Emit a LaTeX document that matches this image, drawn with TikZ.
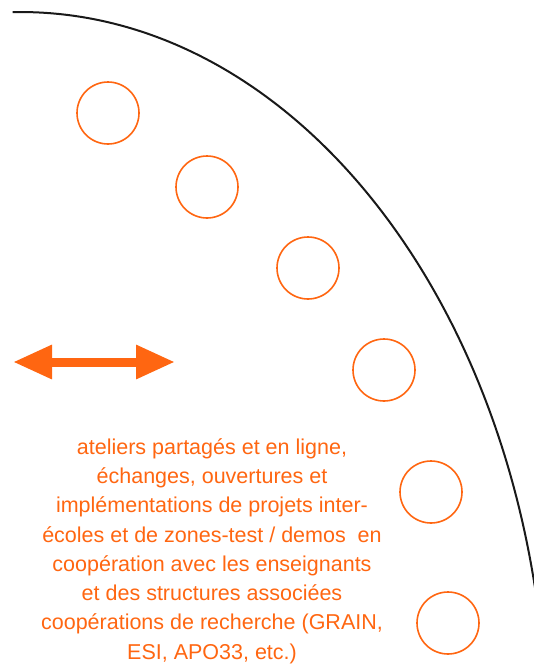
\documentclass[tikz,border=0pt]{standalone}
\usepackage{fontspec}
\setmainfont{Liberation Sans}
\usepackage{xcolor}
\usepackage{tikz}
\usetikzlibrary{arrows.meta,positioning}
\definecolor{ringOrange}{RGB}{255,102,17}
\colorlet{arcBlack}{black!90}
\tikzset{
  % orange rings placed along the inside of the big arc
  hole/.style={
    circle,
    draw=ringOrange,
    line width=1.6pt,
    minimum size=62pt,
    inner sep=0pt
  },
  bigarc/.style={
    draw=arcBlack,
    line width=2pt
  },
  swaparrow/.style={
    {Triangle[length=39pt,width=32pt]}-{Triangle[length=39pt,width=32pt]},
    line width=9pt,
    draw=ringOrange,
    fill=ringOrange
  },
  blurb/.style={
    text=ringOrange,
    align=center,
    font=\fontsize{21.5}{29.3}\selectfont,
    inner sep=0pt
  }
}
\begin{document}
\begin{tikzpicture}[x=1pt,y=-1pt]
\useasboundingbox (0,0) rectangle (533,664);

\coordinate (arcctr) at (20,743);
\draw[bigarc] (arcctr) ++(-90.8:527 and 731) arc[start angle=-90.8, end angle=-6, x radius=527, y radius=731];

\node[hole] (ring1) at (108,113) {};
\node[hole] (ring2) at (207,187) {};
\node[hole] (ring3) at (308,268) {};
\node[hole] (ring4) at (384,370) {};
\node[hole] (ring5) at (431,492) {};
\node[hole] (ring6) at (448,623) {};

\coordinate (swapL) at (13,362);
\coordinate (swapR) at (175,362);
\draw[swaparrow] (swapL) -- (swapR);

\node[blurb] (text) at (212,551)
{ateliers partagés et en ligne,\\
échanges, ouvertures et\\
implémentations de projets inter-\\
écoles et de zones-test / demos\ \ en\\
coopération avec les enseignants\\
et des structures associées\\
coopérations de recherche (GRAIN,\\
ESI, APO33, etc.)};

\end{tikzpicture}
\end{document}
